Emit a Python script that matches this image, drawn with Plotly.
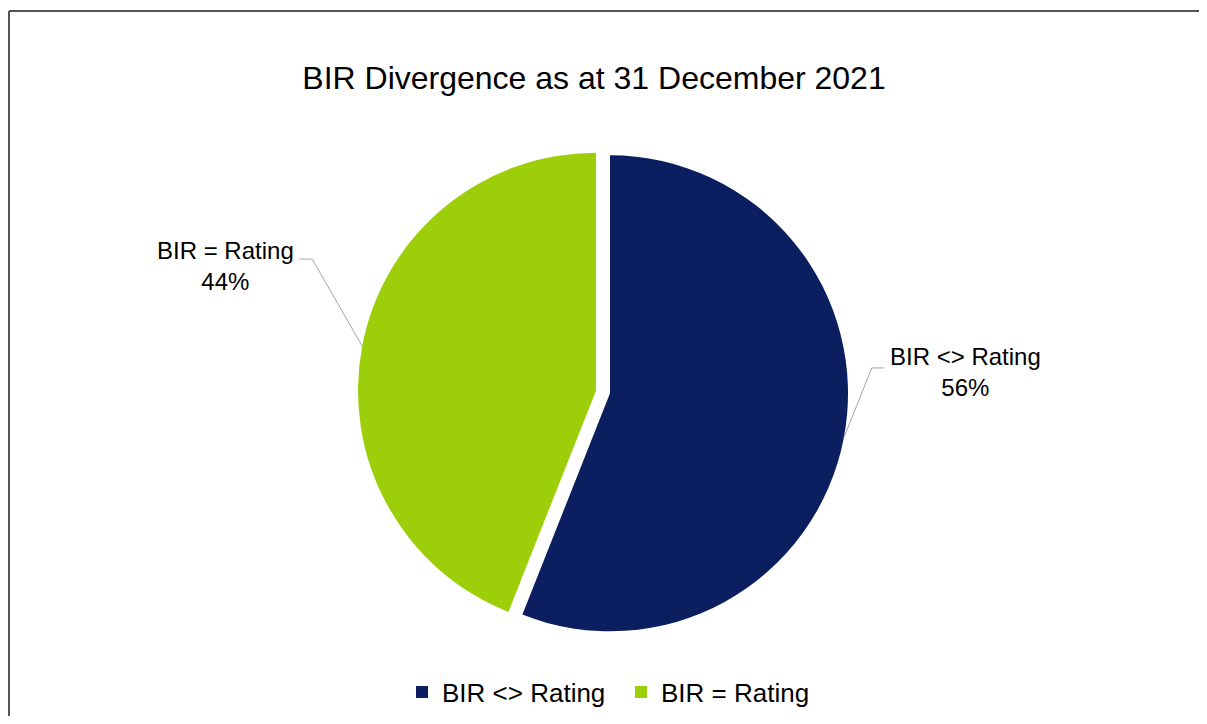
import math
import plotly.graph_objects as go

# ---- data ----
categories = ["BIR <> Rating", "BIR = Rating"]
values = [56, 44]
colors = ["#0b1f60", "#9ccf0a"]
title_text = "BIR Divergence as at 31 December 2021"

# ---- layout constants (page pixels) ----
OFF = 8                    # browser body margin
W, H = 1207 - 2 * OFF, 724 - 2 * OFF
CX, CY = 603, 392          # pie centre (page)
R = 238                    # pie radius
PULL = 0.03
FONT = "Liberation Sans, Arial, sans-serif"


def px(x):
    return (x - OFF) / W


def py(y):
    return 1 - (y - OFF) / H


box = 2 * R * (1 + PULL)
dom_x = [px(CX - box / 2), px(CX + box / 2)]
dom_y = [py(CY + box / 2), py(CY - box / 2)]

fig = go.Figure(
    go.Pie(
        labels=categories,
        values=values,
        marker=dict(colors=colors, line=dict(width=0)),
        pull=[PULL] * len(values),
        sort=False,
        direction="clockwise",
        rotation=0,
        textinfo="none",
        hoverinfo="label+percent",
        domain=dict(x=dom_x, y=dom_y),
        showlegend=True,
    )
)

# ---- outside labels with leader lines, positioned from slice mid-angles ----
total = sum(values)
start = 0.0
leader_style = [
    dict(elbow=(28, -70), tail=12, side=1),
    dict(elbow=(-50, -87), tail=-13, side=-1),
]
shapes = []
annotations = []
for cat, v, st in zip(categories, values, leader_style):
    frac = v / total
    mid = math.radians((start + frac / 2) * 360)
    start += frac
    s, c = math.sin(mid), math.cos(mid)
    cxp = CX + PULL * R * s
    cyp = CY - PULL * R * c
    ex, ey = cxp + R * s, cyp - R * c
    bx, by = ex + st["elbow"][0], ey + st["elbow"][1]
    tx, ty = bx + st["tail"], by
    shapes.append(dict(
        type="path", xref="paper", yref="paper",
        path=f"M {px(ex)},{py(ey)} L {px(bx)},{py(by)} L {px(tx)},{py(ty)}",
        line=dict(color="#a6a6a6", width=1),
    ))
    pct = round(100 * frac)
    if st["side"] > 0:
        ax, anchor, ay = tx + 4, "left", ty + 4
    else:
        ax, anchor, ay = tx - 3, "right", ty + 7
    annotations.append(dict(
        text=f"{cat}<br>{pct}%", x=px(ax), y=py(ay), xref="paper", yref="paper",
        xanchor=anchor, yanchor="middle", align="center", showarrow=False,
        font=dict(family=FONT, size=24, color="#000000"),
    ))

# chart border (top and left edges; right/bottom lie outside the view)
shapes.append(dict(type="line", xref="paper", yref="paper",
                   x0=px(9), x1=1.0, y0=py(11), y1=py(11),
                   line=dict(color="#555555", width=2)))
shapes.append(dict(type="line", xref="paper", yref="paper",
                   x0=px(9), x1=px(9), y0=py(11), y1=0.0,
                   line=dict(color="#555555", width=2)))

fig.update_layout(
    width=W, height=H,
    margin=dict(l=0, r=0, t=0, b=0),
    paper_bgcolor="white", plot_bgcolor="white",
    title=dict(
        text=title_text, x=px(594), xanchor="center", y=py(78), yanchor="middle",
        font=dict(family=FONT, size=32, color="#000000"),
    ),
    legend=dict(
        orientation="h", x=px(442 - 40), xanchor="left", y=py(692), yanchor="middle",
        font=dict(family=FONT, size=26, color="#000000"),
        bgcolor="rgba(0,0,0,0)", entrywidth=174,
    ),
    shapes=shapes,
    annotations=annotations,
)

fig.write_html("out.html", config={"displayModeBar": False})
